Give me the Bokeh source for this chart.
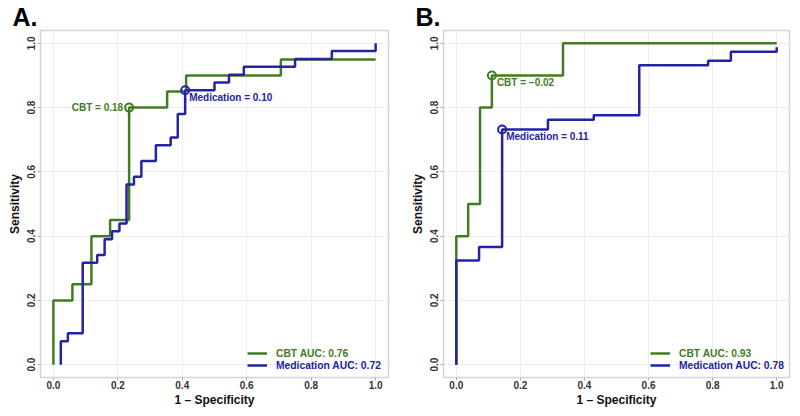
from bokeh.plotting import figure
from bokeh.layouts import row
from bokeh.models import Range1d, FixedTicker, PrintfTickFormatter, Legend, LegendItem
from bokeh.core.properties import value
from bokeh.embed import file_html
from bokeh.resources import INLINE

# ---------------- data ----------------
tick_values = [0.0, 0.2, 0.4, 0.6, 0.8, 1.0]

# Panel A
a_cbt_fpr = [0.0, 0.0, 0.059, 0.059, 0.118, 0.118, 0.176, 0.176, 0.235, 0.235, 0.353, 0.353, 0.412, 0.412, 0.706, 0.706, 1.0]
a_cbt_tpr = [0.0, 0.20, 0.20, 0.25, 0.25, 0.40, 0.40, 0.45, 0.45, 0.80, 0.80, 0.85, 0.85, 0.90, 0.90, 0.95, 0.95]
a_med_fpr = [0.023, 0.023, 0.045, 0.045, 0.091, 0.091, 0.136, 0.136, 0.159, 0.159, 0.182, 0.182, 0.205, 0.205,
             0.227, 0.227, 0.250, 0.250, 0.273, 0.273, 0.318, 0.318, 0.364, 0.364, 0.386, 0.386, 0.409, 0.409,
             0.500, 0.500, 0.545, 0.545, 0.591, 0.591, 0.750, 0.750, 0.864, 0.864, 1.0, 1.0]
a_med_tpr = [0.0, 0.073, 0.073, 0.098, 0.098, 0.317, 0.317, 0.341, 0.341, 0.390, 0.390, 0.415, 0.415, 0.439,
             0.439, 0.561, 0.561, 0.585, 0.585, 0.634, 0.634, 0.683, 0.683, 0.707, 0.707, 0.780, 0.780, 0.854,
             0.854, 0.878, 0.878, 0.902, 0.902, 0.927, 0.927, 0.951, 0.951, 0.976, 0.976, 1.0]
a_cbt_thr = (0.235, 0.80, "CBT = 0.18")
a_med_thr = (0.409, 0.854, "Medication = 0.10")
a_legend = ["CBT AUC: 0.76", "Medication AUC: 0.72"]

# Panel B
b_cbt_fpr = [0.0, 0.0, 0.037, 0.037, 0.074, 0.074, 0.111, 0.111, 0.333, 0.333, 1.0]
b_cbt_tpr = [0.0, 0.40, 0.40, 0.50, 0.50, 0.80, 0.80, 0.90, 0.90, 1.0, 1.0]
b_med_fpr = [0.0, 0.0, 0.071, 0.071, 0.143, 0.143, 0.286, 0.286, 0.429, 0.429, 0.571, 0.571, 0.786, 0.786,
             0.857, 0.857, 1.0, 1.0]
b_med_tpr = [0.0, 0.324, 0.324, 0.366, 0.366, 0.732, 0.732, 0.762, 0.762, 0.776, 0.776, 0.932, 0.932, 0.946,
             0.946, 0.974, 0.974, 0.988]
b_cbt_thr = (0.111, 0.90, "CBT = \u22120.02")
b_med_thr = (0.143, 0.732, "Medication = 0.11")
b_legend = ["CBT AUC: 0.93", "Medication AUC: 0.78"]

GREEN = "#427c22"
BLUE = "#2323a3"
FONT = "Liberation Sans"


def make_panel(tag, cbt_x, cbt_y, med_x, med_y, cbt_thr, med_thr, legend_text, cbt_left,
               width, b_left, b_right):
    p = figure(width=width, height=416, output_backend="svg", toolbar_location=None,
               x_range=Range1d(-0.04, 1.04), y_range=Range1d(-0.04, 1.04),
               min_border_left=b_left, min_border_right=b_right, min_border_top=30, min_border_bottom=39)
    p.outline_line_color = "#d4d4d4"
    p.outline_line_width = 1.5
    p.background_fill_color = "white"
    p.border_fill_color = "white"

    p.title.text = tag
    p.title.text_font = FONT
    p.title.text_font_style = "bold"
    p.title.text_font_size = "25px"
    p.title.text_color = "black"
    p.title.align = "left"
    p.title.offset = -28
    p.title.standoff = 0

    for ax in (p.xaxis[0], p.yaxis[0]):
        ax.ticker = FixedTicker(ticks=tick_values)
        ax.formatter = PrintfTickFormatter(format="%.1f")
        ax.axis_line_color = None
        ax.major_tick_line_color = "#b0b0b0"
        ax.major_tick_out = 3
        ax.major_tick_in = 0
        ax.minor_tick_line_color = None
        ax.major_label_text_font = FONT
        ax.major_label_text_font_style = "bold"
        ax.major_label_text_font_size = "10px"
        ax.major_label_text_color = "#333333"
        ax.major_label_standoff = 0
        ax.axis_label_text_font = FONT
        ax.axis_label_text_font_style = "bold"
        ax.axis_label_text_font_size = "12px"
        ax.axis_label_text_color = "#111111"
        ax.axis_label_standoff = 1
    p.yaxis.major_label_standoff = 2
    p.yaxis.axis_label_standoff = 3
    p.xaxis.axis_label = "1 \u2013 Specificity"
    p.yaxis.axis_label = "Sensitivity"
    p.yaxis.major_label_orientation = "vertical"

    p.grid.grid_line_color = "#eeeeee"
    p.grid.grid_line_width = 1
    p.xgrid.ticker = FixedTicker(ticks=tick_values)
    p.ygrid.ticker = FixedTicker(ticks=tick_values)

    r_cbt = p.line(cbt_x, cbt_y, line_color=GREEN, line_width=2.5)
    r_med = p.line(med_x, med_y, line_color=BLUE, line_width=2.5)

    p.scatter([cbt_thr[0]], [cbt_thr[1]], marker="circle", size=8, fill_color=None,
              line_color=GREEN, line_width=2)
    p.scatter([med_thr[0]], [med_thr[1]], marker="circle", size=8, fill_color=None,
              line_color=BLUE, line_width=2)

    if cbt_left:
        p.text([cbt_thr[0]], [cbt_thr[1]], text=[cbt_thr[2]], text_align="right", text_baseline="middle",
               x_offset=-6, y_offset=0, text_color=GREEN, text_font=value(FONT),
               text_font_style="bold", text_font_size="10px")
    else:
        p.text([cbt_thr[0]], [cbt_thr[1]], text=[cbt_thr[2]], text_align="left", text_baseline="middle",
               x_offset=5, y_offset=7, text_color=GREEN, text_font=value(FONT),
               text_font_style="bold", text_font_size="10px")
    p.text([med_thr[0]], [med_thr[1]], text=[med_thr[2]], text_align="left", text_baseline="middle",
           x_offset=4, y_offset=7, text_color=BLUE, text_font=value(FONT),
           text_font_style="bold", text_font_size="10px")

    for lbl, rend, col, yloc in ((legend_text[0], r_cbt, GREEN, 18), (legend_text[1], r_med, BLUE, 6)):
        lg = Legend(items=[LegendItem(label=lbl, renderers=[rend])], location=(207, yloc),
                    padding=0, margin=0, spacing=0, glyph_width=20, glyph_height=12, label_height=12,
                    label_standoff=9, border_line_color=None, background_fill_alpha=0,
                    label_text_font=FONT, label_text_font_style="bold", label_text_font_size="10.3px",
                    label_text_color=col)
        p.add_layout(lg)
    return p


pA = make_panel("A.", a_cbt_fpr, a_cbt_tpr, a_med_fpr, a_med_tpr, a_cbt_thr, a_med_thr, a_legend, True,
                400, 40, 12)
pB = make_panel("B.", b_cbt_fpr, b_cbt_tpr, b_med_fpr, b_med_tpr, b_cbt_thr, b_med_thr, b_legend, False,
                400, 43, 11)

layout = row(pA, pB)
open("out.html", "w").write(file_html(layout, INLINE))
